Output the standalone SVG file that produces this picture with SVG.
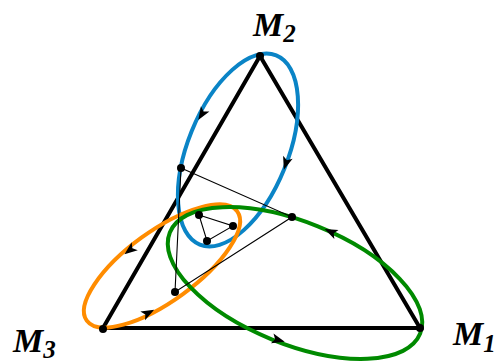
<svg xmlns="http://www.w3.org/2000/svg" width="496" height="363" viewBox="0 0 496 363">
<style>
.tri{fill:none;stroke:#000;stroke-width:4;stroke-linejoin:miter}
.orb{fill:none;stroke-width:4}
.thin{fill:none;stroke:#000;stroke-width:1.1}
.dot{fill:#000}
.lab{font-family:"Liberation Serif","Times New Roman",serif;font-weight:bold;font-style:italic;fill:#000}
</style>
<defs>
<path id="ah" d="M7,0 L-6,-5 L-3,0 L-6,5 Z" fill="#000"/>
</defs>
<g id="triangle">
<polygon class="tri" points="260,56 103,328 420,328"/>
</g>
<g id="orbit-blue">
<ellipse class="orb" stroke="#0a84c6" cx="238" cy="150" rx="50" ry="102" transform="rotate(22 238 150)"/>
<use href="#ah" transform="translate(202,114) rotate(122)"/>
<use href="#ah" transform="translate(286,163) rotate(108)"/>
</g>
<g id="orbit-orange">
<ellipse class="orb" stroke="#ff8c00" cx="162" cy="266" rx="93" ry="35" transform="rotate(-36 162 266)"/>
<use href="#ah" transform="translate(130,250) rotate(142)"/>
<use href="#ah" transform="translate(148,313) rotate(-28)"/>
</g>
<g id="orbit-green">
<ellipse class="orb" stroke="#008a00" cx="295" cy="283" rx="135" ry="61" transform="rotate(22 295 283)"/>
<use href="#ah" transform="translate(331,232) rotate(205)"/>
<use href="#ah" transform="translate(278,340) rotate(15)"/>
</g>
<g id="connectors">
<polygon class="thin" points="181,168 292,217 175,292"/>
<polygon class="thin" points="199,215 233,226 207,241"/>
</g>
<g id="points">
<circle class="dot" cx="260" cy="56" r="4"/>
<circle class="dot" cx="103" cy="329" r="4"/>
<circle class="dot" cx="420" cy="328" r="4"/>
<circle class="dot" cx="181" cy="168" r="4"/>
<circle class="dot" cx="292" cy="217" r="4"/>
<circle class="dot" cx="175" cy="292" r="4"/>
<circle class="dot" cx="199" cy="215" r="4"/>
<circle class="dot" cx="233" cy="226" r="4"/>
<circle class="dot" cx="207" cy="241" r="4"/>
</g>
<g id="label-M2"><text class="lab" x="253" y="36" font-size="34">M<tspan font-size="25" dy="6">2</tspan></text></g>
<g id="label-M3"><text class="lab" x="13" y="352" font-size="34">M<tspan font-size="25" dy="6">3</tspan></text></g>
<g id="label-M1"><text class="lab" x="453" y="345" font-size="34">M<tspan font-size="25" dy="7">1</tspan></text></g>
</svg>
